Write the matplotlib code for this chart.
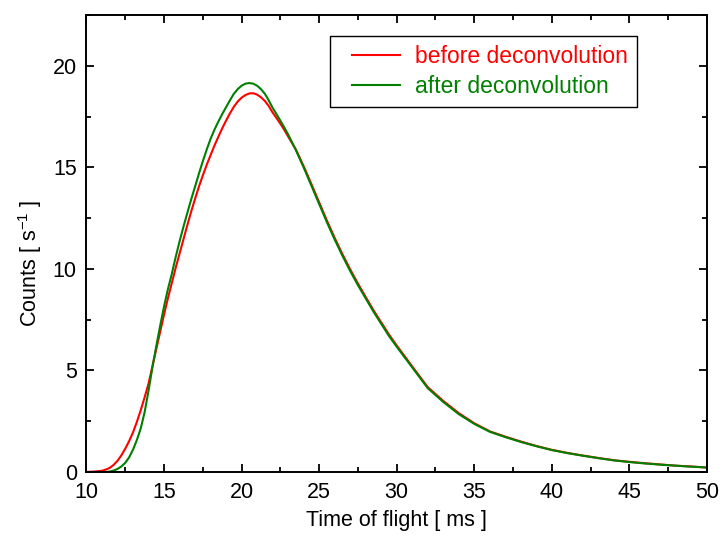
import matplotlib
matplotlib.use("Agg")
import matplotlib.pyplot as plt
from matplotlib.ticker import MultipleLocator
from matplotlib.legend_handler import HandlerLine2D
from matplotlib.lines import Line2D

plt.rcParams['font.family'] = ['Liberation Sans', 'DejaVu Sans']
plt.rcParams['mathtext.fontset'] = 'custom'
plt.rcParams['mathtext.rm'] = 'Liberation Sans'
plt.rcParams['mathtext.it'] = 'Liberation Sans:italic'

# time of flight [ms]
tof = [10.0, 10.5, 11.0, 11.25, 11.5, 11.75, 12.0, 12.25, 12.5, 12.75,
       13.0, 13.25, 13.5, 13.75, 14.0, 14.25, 14.5, 14.75, 15.0, 15.25,
       15.5, 15.75, 16.0, 16.25, 16.5, 16.75, 17.0, 17.25, 17.5, 17.75,
       18.0, 18.25, 18.5, 18.75, 19.0, 19.25, 19.5, 19.75, 20.0, 20.25,
       20.5, 20.75, 21.0, 21.25, 21.5, 21.75, 22.0, 22.25, 22.5, 22.75,
       23.0, 23.5, 24.0, 24.5, 25.0, 25.5, 26.0, 26.5, 27.0, 27.5,
       28.0, 28.5, 29.0, 29.5, 30.0, 31.0, 32.0, 33.0, 34.0, 35.0,
       36.0, 37.0, 38.0, 39.0, 40.0, 41.0, 42.0, 43.0, 44.0, 45.0,
       46.0, 47.0, 48.0, 49.0, 50.0]

before = [0.0, 0.02, 0.06, 0.12, 0.2, 0.35, 0.55, 0.82, 1.15, 1.52,
          1.95, 2.47, 3.05, 3.68, 4.35, 5.2, 6.05, 6.9, 7.75, 8.55,
          9.3, 10.05, 10.75, 11.45, 12.15, 12.82, 13.45, 14.05, 14.6, 15.12,
          15.6, 16.07, 16.5, 16.92, 17.3, 17.66, 17.98, 18.24, 18.43, 18.56,
          18.64, 18.65, 18.58, 18.45, 18.27, 18.02, 17.7, 17.43, 17.15, 16.85,
          16.52, 15.88, 15.06, 14.18, 13.28, 12.38, 11.53, 10.73, 9.98, 9.28,
          8.62, 7.97, 7.37, 6.77, 6.23, 5.2, 4.18, 3.5, 2.9, 2.4,
          2.0, 1.74, 1.5, 1.28, 1.09, 0.94, 0.81, 0.69, 0.58, 0.5,
          0.43, 0.37, 0.31, 0.27, 0.22]

after = [0.0, 0.0, 0.0, 0.0, 0.02, 0.07, 0.15, 0.27, 0.45, 0.72,
         1.1, 1.58, 2.15, 2.95, 4.0, 5.15, 6.2, 7.2, 8.15, 9.0,
         9.75, 10.58, 11.35, 12.07, 12.75, 13.42, 14.05, 14.69, 15.3, 15.87,
         16.4, 16.85, 17.25, 17.62, 17.96, 18.3, 18.62, 18.85, 19.02, 19.12,
         19.15, 19.12, 19.02, 18.85, 18.62, 18.3, 17.93, 17.62, 17.3, 16.97,
         16.62, 15.85, 15.0, 14.1, 13.2, 12.3, 11.45, 10.65, 9.9, 9.2,
         8.55, 7.9, 7.3, 6.7, 6.17, 5.15, 4.13, 3.45, 2.85, 2.37,
         1.98, 1.72, 1.48, 1.27, 1.08, 0.93, 0.8, 0.68, 0.57, 0.49,
         0.42, 0.36, 0.31, 0.26, 0.22]


class ShortLine(HandlerLine2D):
    # legend line drawn only in the right part of the handle box
    def create_artists(self, legend, orig_handle, xdescent, ydescent, width, height, fontsize, trans):
        arts = super().create_artists(legend, orig_handle, xdescent, ydescent, width, height, fontsize, trans)
        for a in arts:
            if isinstance(a, Line2D):
                xd = a.get_xdata()
                end = max(xd)
                a.set_xdata([end - (end - x) * 0.78 for x in xd])
        return arts


fig = plt.figure(figsize=(7.22, 5.44), dpi=100)
ax = fig.add_axes([0.1198, 0.1324, 0.8592, 0.84])

l1, = ax.plot(tof, before, color='#ff0000', lw=1.5, label='before deconvolution')
l2, = ax.plot(tof, after, color='#008000', lw=1.5, label='after deconvolution')

ax.set_xlim(10, 50)
ax.set_ylim(0, 22.5)
ax.xaxis.set_major_locator(MultipleLocator(5))
ax.xaxis.set_minor_locator(MultipleLocator(2.5))
ax.yaxis.set_major_locator(MultipleLocator(5))
ax.yaxis.set_minor_locator(MultipleLocator(2.5))
ax.tick_params(which='both', direction='in', top=True, right=True, width=1.3, labelsize=15.5, pad=7)
ax.tick_params(which='major', length=6)
ax.tick_params(which='minor', length=3.5)
for s in ax.spines.values():
    s.set_linewidth(1.4)

ax.set_xlabel('Time of flight [ ms ]', fontsize=15.5, labelpad=5)
ax.set_ylabel('Counts [ s$^{\\mathregular{-1}}$ ]', fontsize=15.5, labelpad=6, y=0.457)

leg = ax.legend(loc='upper right', bbox_to_anchor=(0.888, 0.954), borderaxespad=0,
                fontsize=16.5, handlelength=2.68, handletextpad=0.66, borderpad=0.4,
                labelspacing=0.3, fancybox=False, framealpha=1, edgecolor='black',
                handler_map={l1: ShortLine(), l2: ShortLine()})
leg.get_frame().set_linewidth(1.0)
for txt, c in zip(leg.get_texts(), ['#ff0000', '#008000']):
    txt.set_color(c)

fig.savefig('out.png', dpi=100)
